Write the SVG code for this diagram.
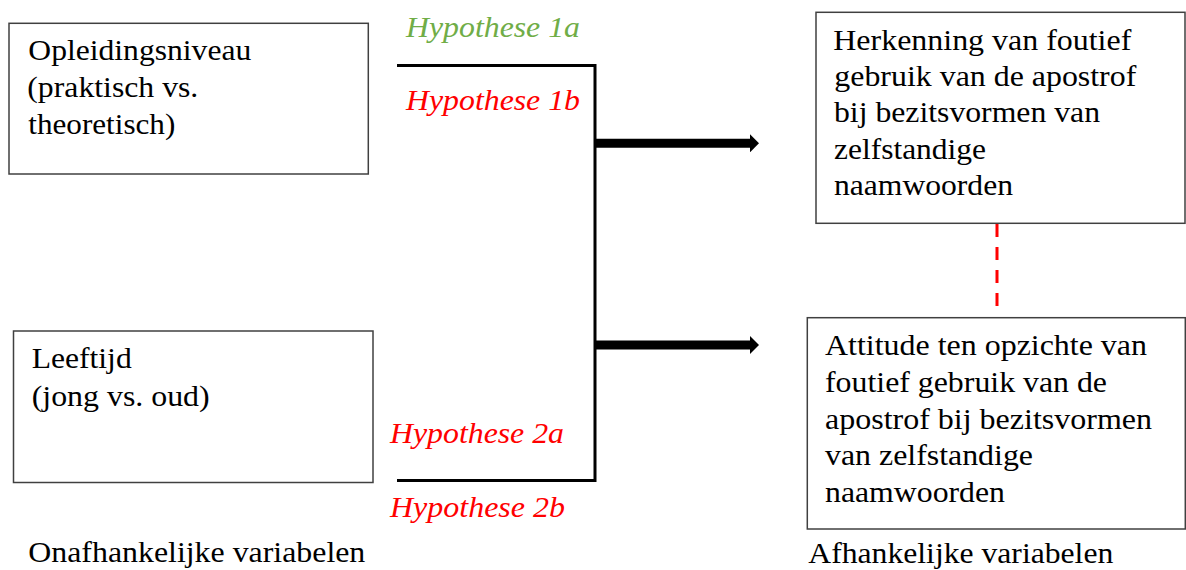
<svg xmlns="http://www.w3.org/2000/svg" width="1186" height="570" viewBox="0 0 1186 570">
<style>
.box{fill:#fff;stroke:#404040;stroke-width:1.5}
.t{font-family:"Liberation Serif","Times New Roman",serif;font-size:29px;fill:#000}
.h{font-family:"Liberation Serif","Times New Roman",serif;font-size:29px;font-style:italic}
.red{fill:#ff0000}
.green{fill:#70ad47}
.ln{fill:none;stroke:#000;stroke-width:3}
</style>
<defs>
<marker id="ah" markerWidth="9" markerHeight="18" refX="0" refY="9" orient="auto" markerUnits="userSpaceOnUse">
<path d="M0,0 L9,9 L0,18 Z" fill="#000"/>
</marker>
</defs>
<rect width="1186" height="570" fill="#fff"/>

<g id="connectors">
<polyline class="ln" points="397,65.5 595,65.5 595,480.5 397,480.5"/>
<line x1="596" y1="143.3" x2="750" y2="143.3" stroke="#000" stroke-width="9" marker-end="url(#ah)"/>
<line x1="596" y1="345" x2="750" y2="345" stroke="#000" stroke-width="9" marker-end="url(#ah)"/>
<line x1="997" y1="224" x2="997" y2="308" stroke="#ff0000" stroke-width="3" stroke-dasharray="13,10"/>
</g>

<g id="labels">
<text class="h green" x="406" y="37" textLength="174" lengthAdjust="spacingAndGlyphs">Hypothese 1a</text>
<text class="h red" x="406" y="110" textLength="174" lengthAdjust="spacingAndGlyphs">Hypothese 1b</text>
<text class="h red" x="390" y="443" textLength="174" lengthAdjust="spacingAndGlyphs">Hypothese 2a</text>
<text class="h red" x="390" y="517" textLength="175" lengthAdjust="spacingAndGlyphs">Hypothese 2b</text>
<text class="t" x="28.3" y="562" textLength="337" lengthAdjust="spacingAndGlyphs">Onafhankelijke variabelen</text>
<text class="t" x="808.3" y="563" textLength="305" lengthAdjust="spacingAndGlyphs">Afhankelijke variabelen</text>
</g>

<g id="node-opleidingsniveau">
<rect class="box" x="9" y="23.3" width="359.3" height="150.7"/>
<text class="t" x="28.3" y="60" textLength="223" lengthAdjust="spacingAndGlyphs">Opleidingsniveau</text>
<text class="t" x="27.3" y="97" textLength="171" lengthAdjust="spacingAndGlyphs">(praktisch vs.</text>
<text class="t" x="28.3" y="133.5" textLength="147" lengthAdjust="spacingAndGlyphs">theoretisch)</text>
</g>

<g id="node-leeftijd">
<rect class="box" x="13.5" y="331" width="359.5" height="151.5"/>
<text class="t" x="31.7" y="368" textLength="100" lengthAdjust="spacingAndGlyphs">Leeftijd</text>
<text class="t" x="31.7" y="406" textLength="178" lengthAdjust="spacingAndGlyphs">(jong vs. oud)</text>
</g>

<g id="node-herkenning">
<rect class="box" x="816" y="12.3" width="369" height="211"/>
<text class="t" x="833.3" y="50" textLength="298" lengthAdjust="spacingAndGlyphs">Herkenning van foutief</text>
<text class="t" x="834.3" y="86" textLength="302" lengthAdjust="spacingAndGlyphs">gebruik van de apostrof</text>
<text class="t" x="834" y="122" textLength="266" lengthAdjust="spacingAndGlyphs">bij bezitsvormen van</text>
<text class="t" x="834" y="158.5" textLength="152" lengthAdjust="spacingAndGlyphs">zelfstandige</text>
<text class="t" x="834" y="195" textLength="179" lengthAdjust="spacingAndGlyphs">naamwoorden</text>
</g>

<g id="node-attitude">
<rect class="box" x="807.3" y="317.7" width="378" height="211.3"/>
<text class="t" x="825" y="355" textLength="322" lengthAdjust="spacingAndGlyphs">Attitude ten opzichte van</text>
<text class="t" x="825" y="392" textLength="282" lengthAdjust="spacingAndGlyphs">foutief gebruik van de</text>
<text class="t" x="825" y="428.5" textLength="327" lengthAdjust="spacingAndGlyphs">apostrof bij bezitsvormen</text>
<text class="t" x="825" y="465" textLength="208" lengthAdjust="spacingAndGlyphs">van zelfstandige</text>
<text class="t" x="825" y="502" textLength="180" lengthAdjust="spacingAndGlyphs">naamwoorden</text>
</g>
</svg>
